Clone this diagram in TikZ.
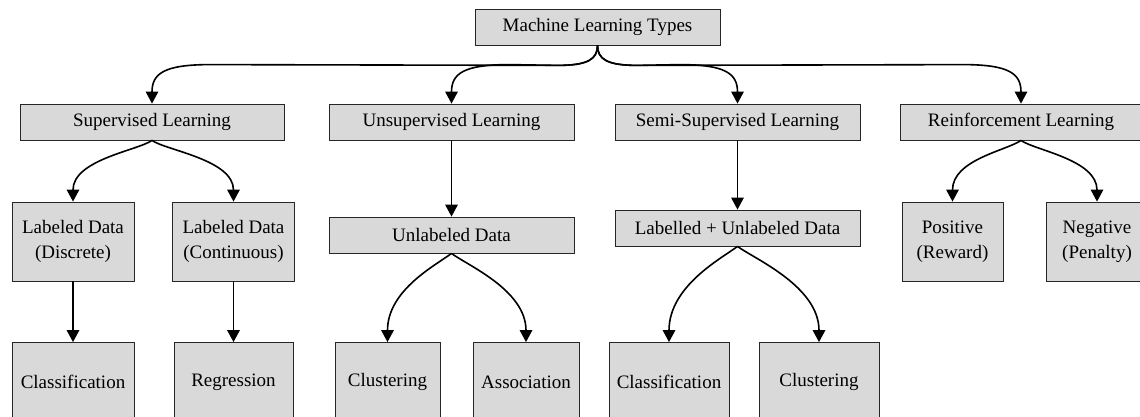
\documentclass[tikz,border=0pt]{standalone}
\usepackage{fontspec}
\setmainfont{Liberation Serif}
\newfontfamily\boxfont{Liberation Serif}
\usetikzlibrary{arrows.meta,calc}
\definecolor{boxfill}{RGB}{217,217,217}
\begin{document}
\begin{tikzpicture}[x=1pt,y=-1pt,
  box/.style={draw=black!85, line width=0.8pt, fill=boxfill, inner sep=0pt,
    align=center, text=black, font=\boxfont\fontsize{19}{25}\selectfont},
  wide/.style={box, minimum width=245pt, minimum height=36pt},
  tall/.style={box, minimum height=79pt},
  arr/.style={line width=1.6pt, -{Triangle[length=12pt,width=12.5pt]}}]
\clip (0,0) rectangle (1140,416);
\useasboundingbox (0,0) rectangle (1140,416);

% root
\node[wide] (mlt) at (597.5,27) {Machine Learning Types};

% learning paradigms
\node[wide, minimum width=264pt] (sup) at (152,122) {Supervised Learning};
\node[wide] (uns) at (451.5,122) {Unsupervised Learning};
\node[wide] (semi) at (737.5,122) {Semi-Supervised Learning};
\node[wide, minimum width=242pt] (rl) at (1021,122) {Reinforcement Learning};

% data / feedback
\node[tall, minimum width=122pt] (dis) at (73,241.5) {Labeled Data\\(Discrete)};
\node[tall, minimum width=122pt] (con) at (233.5,241.5) {Labeled Data\\(Continuous)};
\node[wide] (uld) at (451.5,235) {Unlabeled Data};
\node[wide] (lud) at (737.5,228) {Labelled + Unlabeled Data};
\node[tall, minimum width=101pt] (pos) at (952.5,241.5) {Positive\\(Reward)};
\node[tall, minimum width=101pt] (neg) at (1097,241.5) {Negative\\(Penalty)};

% tasks
\node[tall, minimum width=122pt] (cls1) at (73,382) {Classification};
\node[tall, minimum width=119pt] (reg) at (233.5,382) {Regression};
\node[tall, minimum width=105pt] (clu1) at (387.5,382) {Clustering};
\node[tall, minimum width=106pt] (asc) at (526,382) {Association};
\node[tall, minimum width=120pt] (cls2) at (669,382) {Classification};
\node[tall, minimum width=120pt] (clu2) at (819,382) {Clustering};

% root fan-out
\draw[arr] (mlt.south) .. controls ($(mlt.south)+(0,14)$) and ($(mlt.south)+(-10,20)$) .. ($(mlt.south)+(-40,20)$)
  -- ($(sup.north)+(58,-39)$) .. controls ($(sup.north)+(12,-39)$) and ($(sup.north)+(0,-30)$) .. (sup.north);
\draw[arr] (mlt.south) .. controls ($(mlt.south)+(0,14)$) and ($(mlt.south)+(-10,20)$) .. ($(mlt.south)+(-40,20)$)
  -- ($(uns.north)+(58,-39)$) .. controls ($(uns.north)+(12,-39)$) and ($(uns.north)+(0,-30)$) .. (uns.north);
\draw[arr] (mlt.south) .. controls ($(mlt.south)+(0,14)$) and ($(mlt.south)+(10,20)$) .. ($(mlt.south)+(40,20)$)
  -- ($(semi.north)+(-58,-39)$) .. controls ($(semi.north)+(-12,-39)$) and ($(semi.north)+(0,-30)$) .. (semi.north);
\draw[arr] (mlt.south) .. controls ($(mlt.south)+(0,14)$) and ($(mlt.south)+(10,20)$) .. ($(mlt.south)+(40,20)$)
  -- ($(rl.north)+(-58,-39)$) .. controls ($(rl.north)+(-12,-39)$) and ($(rl.north)+(0,-30)$) .. (rl.north);

% second level
\draw[arr] (sup.south) .. controls ($(sup.south)+(-14,10)$) and ($(dis.north)+(0,-42)$) .. (dis.north);
\draw[arr] (sup.south) .. controls ($(sup.south)+(14,10)$) and ($(con.north)+(0,-42)$) .. (con.north);
\draw[arr] (uns.south) -- (uld.north);
\draw[arr] (semi.south) -- (lud.north);
\draw[arr] (rl.south) .. controls ($(rl.south)+(-14,10)$) and ($(pos.north)+(0,-42)$) .. (pos.north);
\draw[arr] (rl.south) .. controls ($(rl.south)+(14,10)$) and ($(neg.north)+(0,-42)$) .. (neg.north);

% third level
\draw[arr] (dis.south) -- (cls1.north);
\draw[arr] (con.south) -- (reg.north);
\draw[arr] (uld.south) .. controls ($(uld.south)+(-16,12)$) and ($(clu1.north)+(0,-52)$) .. (clu1.north);
\draw[arr] (uld.south) .. controls ($(uld.south)+(16,12)$) and ($(asc.north)+(0,-52)$) .. (asc.north);
\draw[arr] (lud.south) .. controls ($(lud.south)+(-16,12)$) and ($(cls2.north)+(0,-56)$) .. (cls2.north);
\draw[arr] (lud.south) .. controls ($(lud.south)+(16,12)$) and ($(clu2.north)+(0,-56)$) .. (clu2.north);
\end{tikzpicture}
\end{document}
